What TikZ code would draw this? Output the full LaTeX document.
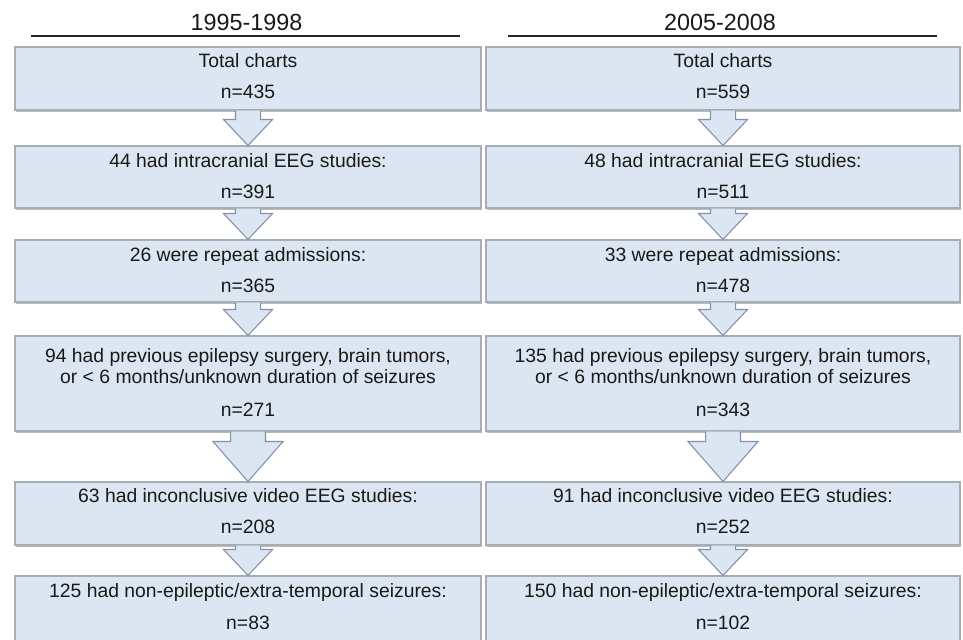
\documentclass[tikz,border=0pt]{standalone}
\usepackage{fontspec}
\setmainfont{Liberation Sans}
\usetikzlibrary{shadows,fit,calc}
\definecolor{boxfill}{RGB}{220,230,242}
\definecolor{boxline}{RGB}{168,172,180}
\definecolor{arrline}{RGB}{128,146,168}
\definecolor{txt}{RGB}{25,25,25}
\tikzset{
  flowbox/.style={draw=boxline, line width=0.8pt, fill=boxfill, inner sep=0pt,
    drop shadow={shadow xshift=0.6pt, shadow yshift=-1.6pt, opacity=0.45, fill=black!60}},
  boxtext/.style={anchor=base, font=\fontsize{14.5}{16}\selectfont, text=txt, inner sep=0pt},
  headtext/.style={anchor=base, font=\fontsize{17.5}{20}\selectfont, text=txt, inner sep=0pt},
  arrfill/.style={fill=boxfill},
  arrdraw/.style={draw=arrline, line width=0.8pt, line join=miter},
  headrule/.style={draw=black!85, line width=1.1pt}
}
% from node, to node, shaft half (pt), head half (pt), head length (pt)
\newcommand\blockarr[5]{%
  \fill[arrfill] let \p1=(#1.south), \p2=(#2.north) in
    (\x1-#3,\y1) -- (\x1-#3,\y2+#5) -- (\x1-#4,\y2+#5) -- (\x1,\y2)
    -- (\x1+#4,\y2+#5) -- (\x1+#3,\y2+#5) -- (\x1+#3,\y1) -- cycle;
  \draw[arrdraw] let \p1=(#1.south), \p2=(#2.north) in
    (\x1-#3,\y1) -- (\x1-#3,\y2+#5) -- (\x1-#4,\y2+#5) -- (\x1,\y2)
    -- (\x1+#4,\y2+#5) -- (\x1+#3,\y2+#5) -- (\x1+#3,\y1);
}
\begin{document}
\begin{tikzpicture}[x=0.75pt, y=-0.75pt]
\clip (0,0) rectangle (963,639);
\fill[white] (0,0) rectangle (963,639);

% headers
\node[headtext] (HL) at (246.5,31) {1995-1998};
\node[headtext] (HR) at (720,31) {2005-2008};
\draw[headrule] (31,36) -- (460,36);
\draw[headrule] (508,36) -- (937,36);

% left column boxes
\node[flowbox, fit={(15,47)(481,110)}] (L1) {};
\node[flowbox, fit={(15,146)(481,208)}] (L2) {};
\node[flowbox, fit={(15,240)(481,302)}] (L3) {};
\node[flowbox, fit={(15,336)(481,431)}] (L4) {};
\node[flowbox, fit={(15,482)(481,545)}] (L5) {};
\node[flowbox, fit={(15,576)(481,690)}] (L6) {};

% right column boxes
\node[flowbox, fit={(486,47)(960,110)}] (R1) {};
\node[flowbox, fit={(486,146)(960,208)}] (R2) {};
\node[flowbox, fit={(486,240)(960,302)}] (R3) {};
\node[flowbox, fit={(486,336)(960,431)}] (R4) {};
\node[flowbox, fit={(486,482)(960,545)}] (R5) {};
\node[flowbox, fit={(486,576)(960,690)}] (R6) {};

% arrows
\foreach \c in {L,R}{
  \blockarr{\c1}{\c2}{9.4pt}{18.4pt}{19.5pt}
  \blockarr{\c2}{\c3}{9.4pt}{18.4pt}{19.5pt}
  \blockarr{\c3}{\c4}{9.4pt}{18.4pt}{19.5pt}
  \blockarr{\c4}{\c5}{13.1pt}{26.3pt}{30pt}
  \blockarr{\c5}{\c6}{9.4pt}{18.4pt}{19.5pt}
}

% left texts
\node[boxtext] (L1a) at ($(L1.north)+(0,21)$) {Total charts};
\node[boxtext] (L1b) at ($(L1.north)+(0,52.5)$) {n=435};
\node[boxtext] (L2a) at ($(L2.north)+(0,22)$) {44 had intracranial EEG studies:};
\node[boxtext] (L2b) at ($(L2.north)+(0,53)$) {n=391};
\node[boxtext] (L3a) at ($(L3.north)+(0,22)$) {26 were repeat admissions:};
\node[boxtext] (L3b) at ($(L3.north)+(0,53)$) {n=365};
\node[boxtext] (L4a) at ($(L4.north)+(0,27)$) {94 had previous epilepsy surgery, brain tumors,};
\node[boxtext] (L4b) at ($(L4.north)+(0,48)$) {or < 6 months/unknown duration of seizures};
\node[boxtext] (L4c) at ($(L4.north)+(0,81)$) {n=271};
\node[boxtext] (L5a) at ($(L5.north)+(0,21.5)$) {63 had inconclusive video EEG studies:};
\node[boxtext] (L5b) at ($(L5.north)+(0,52.5)$) {n=208};
\node[boxtext] (L6a) at ($(L6.north)+(0,22.5)$) {125 had non-epileptic/extra-temporal seizures:};
\node[boxtext] (L6b) at ($(L6.north)+(0,54)$) {n=83};

% right texts
\node[boxtext] (R1a) at ($(R1.north)+(0,21)$) {Total charts};
\node[boxtext] (R1b) at ($(R1.north)+(0,52.5)$) {n=559};
\node[boxtext] (R2a) at ($(R2.north)+(0,22)$) {48 had intracranial EEG studies:};
\node[boxtext] (R2b) at ($(R2.north)+(0,53)$) {n=511};
\node[boxtext] (R3a) at ($(R3.north)+(0,22)$) {33 were repeat admissions:};
\node[boxtext] (R3b) at ($(R3.north)+(0,53)$) {n=478};
\node[boxtext] (R4a) at ($(R4.north)+(0,27)$) {135 had previous epilepsy surgery, brain tumors,};
\node[boxtext] (R4b) at ($(R4.north)+(0,48)$) {or < 6 months/unknown duration of seizures};
\node[boxtext] (R4c) at ($(R4.north)+(0,81)$) {n=343};
\node[boxtext] (R5a) at ($(R5.north)+(0,21.5)$) {91 had inconclusive video EEG studies:};
\node[boxtext] (R5b) at ($(R5.north)+(0,52.5)$) {n=252};
\node[boxtext] (R6a) at ($(R6.north)+(0,22.5)$) {150 had non-epileptic/extra-temporal seizures:};
\node[boxtext] (R6b) at ($(R6.north)+(0,54)$) {n=102};
\end{tikzpicture}
\end{document}
